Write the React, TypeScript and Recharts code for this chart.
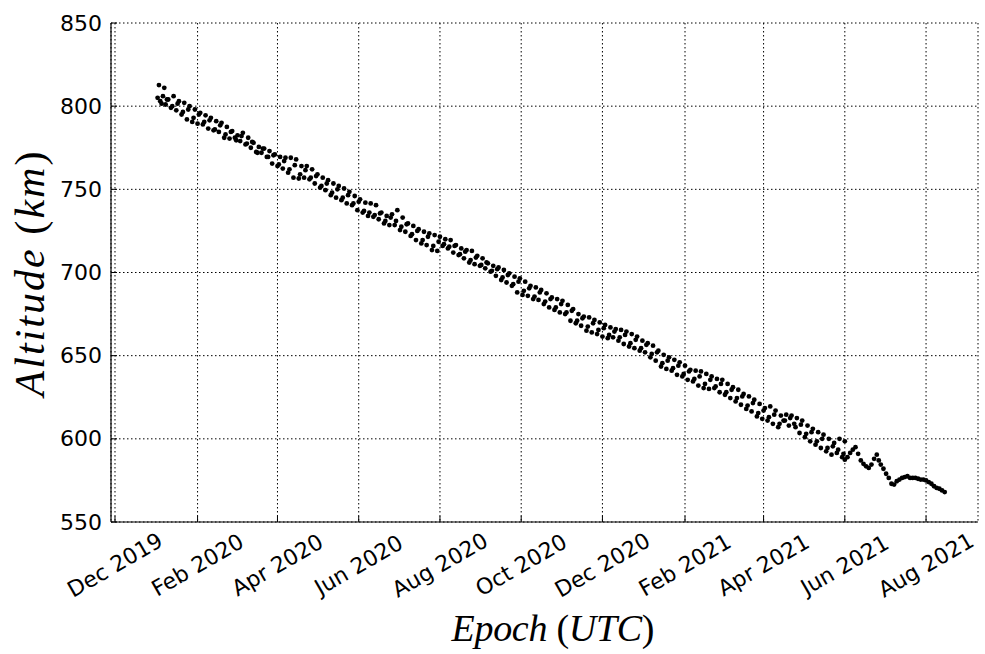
import React from 'react';
import { ScatterChart, Scatter, XAxis, YAxis, CartesianGrid } from 'recharts';

// Epoch is expressed in days since 1 Dec 2019 (UTC)
const tickDays = [0, 62, 122, 183, 244, 305, 366, 428, 487, 548, 609];
const tickLabels = ['Dec 2019', 'Feb 2020', 'Apr 2020', 'Jun 2020', 'Aug 2020', 'Oct 2020', 'Dec 2020', 'Feb 2021', 'Apr 2021', 'Jun 2021', 'Aug 2021'];
const altTicks = [550, 600, 650, 700, 750, 800, 850];

const upperDays = [32,36,40,44,48,52,56,60,64,68,72,76,80,84,88,92,96,100,104,108,112,116,120,124,128,132,136,140,144,148,152,156,160,164,168,172,176,180,184,188,192,196,200,204,208,212,216,220,224,228,232,236,240,244,248,252,256,260,264,268,272,276,280,284,288,292,296,300,304,308,312,316,320,324,328,332,336,340,344,348,352,356,360,364,368,372,376,380,384,388,392,396,400,404,408,412,416,420,424,428,432,436,440,444,448,452,456,460,464,468,472,476,480,484,488,492,496,500,504,508,512,516,520,524,528,532,536,540,544,548];
const upperAlt = [805,806,804,806,803,802,800,798,796,794.5,
  793,791,790,787.5,785,782.5,784,781,778,775.5,
  774.5,773,771,769.5,769,769,768,764,764,762,
  759,757,755.5,753.5,752,750.5,748.5,746,744,742,
  741.5,740.5,736,734,735,737.5,733,729.5,728,726,
  724.5,723.5,722.5,721.5,720,719.5,716.5,714.5,713.5,713,
  710,708.5,705.5,704,703,701.5,699.5,697.5,696.5,694.5,
  692,691,689.5,687.5,685,684,683,680.5,678,675,
  673.5,673,671.5,670,668.5,667,666,665.5,664.5,663,
  661.5,659,657.5,656,653,650.5,649,647.5,646,644,
  641.5,641,640.5,639,637.5,636,635.5,633,631,629.5,
  627,625.5,623.5,621,618.5,619.5,617,614,614.5,614,
  612.5,611,608,606,604,602.5,600,597.5,600,598.5];

const midDays = [35,39,43,47,51,55,59,63,67,71,75,79,83,87,91,95,99,103,107,111,115,119,123,127,131,135,139,143,147,151,155,159,163,167,171,175,179,183,187,191,195,199,203,207,211,215,219,223,227,231,235,239,243,247,251,255,259,263,267,271,275,279,283,287,291,295,299,303,307,311,315,319,323,327,331,335,339,343,347,351,355,359,363,367,371,375,379,383,387,391,395,399,403,407,411,415,419,423,427,431,435,439,443,447,451,455,459,463,467,471,475,479,483,487,491,495,499,503,507,511,515,519,523,527,531,535,539,543,547];
const midAlt = [801.5,804,800,801.5,796.5,798,793,795,790.5,791.5,
  786,788.5,783,784.5,779.5,782,777.5,778.5,772,774.5,
  769.5,770.5,765,767,762,764.5,759,761.5,757,758,
  752,753.5,748,750,745,746.5,741.5,742.5,737,736,
  734.5,735.5,731,733,731,727.5,729,723,725,719.5,
  721.5,716,718.5,717,715.5,716,711,712.5,707.5,709,
  704.5,706,701,702,697,698.5,693,694.5,689,690.5,
  685.5,688,682.5,684,679,681,676,677,671,672.5,
  667.5,669.5,665.5,666.5,662.5,664.5,661,662.5,657.5,659.5,
  654.5,656.5,651,652,645.5,647,642.5,644,639,640.5,
  636,637.5,633,635.5,631.5,633,628,629.5,624.5,625.5,
  620,621.5,615.5,617,613,614.5,609,611,612.5,607,
  608.5,603,604,598.5,600,594.5,595.5,593.5,591];

const lowerDays = [34,38,42,46,50,54,58,62,66,70,74,78,82,86,90,94,98,102,106,110,114,118,122,126,130,134,138,142,146,150,154,158,162,166,170,174,178,182,186,190,194,198,202,206,210,214,218,222,226,230,234,238,242,246,250,254,258,262,266,270,274,278,282,286,290,294,298,302,306,310,314,318,322,326,330,334,338,342,346,350,354,358,362,366,370,374,378,382,386,390,394,398,402,406,410,414,418,422,426,430,434,438,442,446,450,454,458,462,466,470,474,478,482,486,490,494,498,502,506,510,514,518,522,526,530,534,538,542,546];
const lowerAlt = [803,801,799,797.5,795,792,790.5,789.5,789,786.5,
  785.5,784.5,781,780.5,781,779,777,775,772.5,772,
  769.5,765.5,764,762.5,760,757,756.5,757,756,753.5,
  751,749.5,746.5,745,743.5,741.5,740.5,737.5,736,734,
  733.5,732,729.5,728.5,728.5,725.5,724.5,722,719.5,717.5,
  716.5,713.5,713,716,714.5,712,710.5,708.5,706,705,
  704,702.5,700.5,698,695.5,694,692,688,686.5,686,
  684,683.5,681,679,677.5,676,675,671,669.5,668,
  665,664,663,661.5,660.5,661,659,657,655.5,654.5,
  653,652,649,647,643.5,642,641,638.5,637.5,635.5,
  634.5,632,630.5,630,630.5,628,626.5,624.5,622.5,620.5,
  618,616.5,613.5,612,611,609,607,611,608,609,
  603.5,601,598.5,596.5,594.5,592.5,590.5,591.5,589];

const tailDays = [548,550,552,554,556,558,560,562,564,566,568,570,572,573.5,575,577,579,581,583,585,587,589,591,593,595,597,599,601,603,605,607,609,611,613,615,617,619,621,623];
const tailAlt = [587.5,589,591.5,593.5,595,591,587,585,583.5,582.5,
  584.5,588,590.5,587,584.5,582,579,576.5,573,572.5,
  574.5,575.5,576.5,577,577.5,576.5,576.5,576.5,576,575.5,
  575.5,575,574,573,571.5,570.5,570,569,568];

const earlyDays = [33, 37];
const earlyAlt = [812.7, 811];

const toPoints = (days: number[], alts: number[]) => days.map((d, i) => ({ day: d, alt: alts[i] }));

const Dot = (p: any) => <circle cx={p.cx} cy={p.cy} r={2.4} fill="#000" />;

const XTick = (p: any) => {
  const { x, y, payload } = p;
  const i = tickDays.indexOf(payload.value);
  const ly = y + 43;
  return (
    <g>
      <line x1={x} x2={x} y1={y} y2={y - 6} stroke="#000" strokeWidth={1} />
      <text x={x} y={ly} textAnchor="middle" dominantBaseline="central" transform={`rotate(-30 ${x} ${ly})`}
        fontFamily="DejaVu Sans" fontSize={22} fill="#000">{tickLabels[i]}</text>
    </g>
  );
};
const TopTick = (p: any) => <line x1={p.x} x2={p.x} y1={p.y} y2={p.y + 6} stroke="#000" strokeWidth={1} />;
const YTick = (p: any) => {
  const { x, y, payload } = p;
  return (
    <g>
      <line x1={x} x2={x + 6} y1={y} y2={y} stroke="#000" strokeWidth={1} />
      <text x={x - 9} y={y} textAnchor="end" dominantBaseline="central" fontFamily="DejaVu Sans" fontSize={22} fill="#000">{payload.value}</text>
    </g>
  );
};
const RightTick = (p: any) => <line x1={p.x} x2={p.x - 6} y1={p.y} y2={p.y} stroke="#000" strokeWidth={1} />;

export default function App() {
  const xDomain: [number, number] = [-3, 648];
  const yDomain: [number, number] = [550, 850];
  return (
    <div style={{ position: 'absolute', left: 0, top: 0, width: 985, height: 654, background: '#fff' }}>
      <ScatterChart width={985} height={654} margin={{ top: 23, right: 7, bottom: 52, left: 51 }}>
        <CartesianGrid stroke="#000" strokeDasharray="1.5 2.5" strokeWidth={1} />
        <XAxis type="number" dataKey="day" domain={xDomain} ticks={tickDays} interval={0} allowDataOverflow
          height={80} tickSize={0} tickMargin={0} tick={<XTick />} axisLine={{ stroke: '#000', strokeWidth: 1.2 }} />
        <XAxis xAxisId="top" orientation="top" type="number" dataKey="day" domain={xDomain} ticks={tickDays} interval={0} allowDataOverflow
          height={0} tickSize={0} tickMargin={0} tick={<TopTick />} axisLine={{ stroke: '#000', strokeWidth: 1.2 }} />
        <YAxis type="number" dataKey="alt" domain={yDomain} ticks={altTicks} interval={0} allowDataOverflow
          width={60} tickSize={0} tickMargin={0} tick={<YTick />} axisLine={{ stroke: '#000', strokeWidth: 1.2 }} />
        <YAxis yAxisId="right" orientation="right" type="number" dataKey="alt" domain={yDomain} ticks={altTicks} interval={0} allowDataOverflow
          width={0} tickSize={0} tickMargin={0} tick={<RightTick />} axisLine={{ stroke: '#000', strokeWidth: 1.2 }} />
        <Scatter data={toPoints(upperDays, upperAlt)} shape={<Dot />} isAnimationActive={false} />
        <Scatter data={toPoints(midDays, midAlt)} shape={<Dot />} isAnimationActive={false} />
        <Scatter data={toPoints(lowerDays, lowerAlt)} shape={<Dot />} isAnimationActive={false} />
        <Scatter data={toPoints(tailDays, tailAlt)} shape={<Dot />} isAnimationActive={false} />
        <Scatter data={toPoints(earlyDays, earlyAlt)} shape={<Dot />} isAnimationActive={false} />
      </ScatterChart>
      <svg width={985} height={654} style={{ position: 'absolute', left: 0, top: 0, pointerEvents: 'none' }}>
        <text x={44} y={274} textAnchor="middle" transform="rotate(-90 44 274)" fontFamily="Liberation Serif" fontStyle="italic"
          fontSize={42} fill="#000" textLength={245} lengthAdjust="spacing">
          Altitude<tspan fontStyle="normal"> (</tspan>km<tspan fontStyle="normal">)</tspan>
        </text>
        <text x={553} y={641} textAnchor="middle" fontFamily="Liberation Serif" fontStyle="italic"
          fontSize={38} fill="#000" textLength={203} lengthAdjust="spacing">
          Epoch<tspan fontStyle="normal"> (</tspan>UTC<tspan fontStyle="normal">)</tspan>
        </text>
      </svg>
    </div>
  );
}
